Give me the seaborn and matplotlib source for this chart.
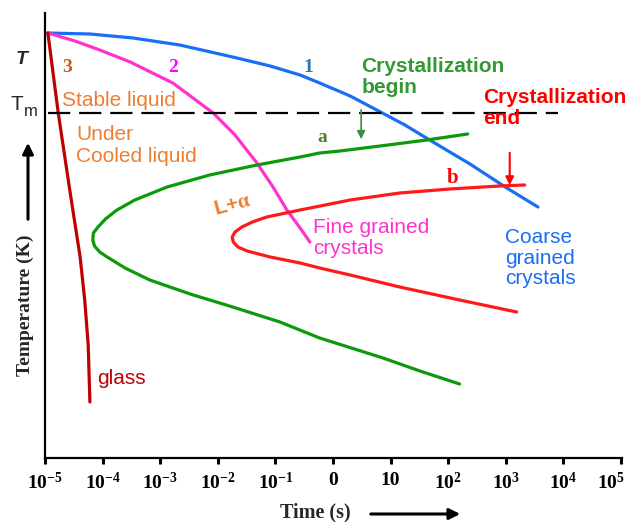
"""
TTT-style cooling diagram: cooling curves 1-3 against
crystallization begin (a) and end (b) C-curves.
"""

import numpy as np
import pandas as pd
import matplotlib
matplotlib.use('Agg')
import matplotlib.pyplot as plt
import matplotlib.transforms as mtransforms
import seaborn as sns

# x = log10(time / s), y = temperature (arbitrary units)
tick_pos = [-5, -4, -3, -2, -1, 0, 1, 2, 3, 4, 5]
tick_labels = [r'$10^{-5}$', r'$10^{-4}$', r'$10^{-3}$', r'$10^{-2}$', r'$10^{-1}$',
               '0', '10', r'$10^{2}$', r'$10^{3}$', r'$10^{4}$', r'$10^{5}$']

t_melt = 345

curve1_x = [-4.95, -4.22, -3.47, -2.66, -1.74, -1.09, -0.57, -0.23, 0.30, 0.76, 1.25, 1.68, 2.38, 3.02, 3.56]
curve1_y = [425, 424, 420, 413, 401, 392, 383, 375, 362, 348, 333, 318, 294, 270, 251]

curve2_x = [-4.95, -4.48, -4.05, -3.52, -2.78, -2.08, -1.70, -1.32, -1.04, -0.80, -0.57, -0.40]
curve2_y = [425, 417, 408, 396, 375, 345, 323, 295, 271, 248, 230, 216]

curve3_x = [-4.95, -4.77, -4.57, -4.39, -4.31, -4.25, -4.22]
curve3_y = [425, 345, 268, 201, 158, 113, 56]

begin_x = [2.34, 1.63, 0.82, 0.12, -0.23, -0.57, -1.32, -2.14, -2.88, -3.44, -3.75, -3.95, -4.08,
           -4.16, -4.17, -4.14, -4.05, -3.92, -3.61, -3.18, -2.48, -1.74, -0.92, -0.23, 0.87, 1.51, 2.20]
begin_y = [324, 318, 312, 307, 305, 301, 293, 283, 271, 258, 248, 239, 231,
           225, 218, 212, 206, 201, 190, 178, 164, 151, 136, 120, 100, 87, 74]

end_x = [3.33, 2.90, 2.03, 1.16, 0.30, -0.57, -1.15, -1.40, -1.58, -1.70, -1.75, -1.73, -1.65,
         -1.49, -1.09, -0.57, -0.23, 0.30, 1.16, 2.20, 3.19]
end_y = [273, 272, 269, 265, 258, 248, 241, 236, 231, 226, 221, 216, 211,
         207, 201, 195, 190, 183, 171, 158, 146]

W, H = 632, 522

sns.set_theme(style='white')
plt.rcParams['font.family'] = ['Liberation Sans', 'DejaVu Sans']
plt.rcParams['mathtext.fontset'] = 'custom'
plt.rcParams['mathtext.rm'] = 'Liberation Serif:bold'
plt.rcParams['mathtext.it'] = 'Liberation Serif:bold:italic'
plt.rcParams['mathtext.bf'] = 'Liberation Serif:bold'
plt.rcParams['mathtext.default'] = 'rm'
plt.rcParams['xtick.bottom'] = True
plt.rcParams['xtick.major.size'] = 4
plt.rcParams['xtick.major.width'] = 2.2

fig = plt.figure(figsize=(W / 100, H / 100), dpi=100)
ax = fig.add_axes([45 / W, (H - 458) / H, 577 / W, 445 / H])


def fx(x):
    return x / W


def fy(y):
    return 1 - y / H


BLUE = '#1a6ef5'
MAGENTA = '#ff33cc'
DARKRED = '#c00000'
GREEN = '#0a9a0a'
RED = '#ff1a1a'
ORANGE = '#ed7d31'
LW = 2.3

curves = [
    (curve1_x, curve1_y, BLUE),
    (curve2_x, curve2_y, MAGENTA),
    (curve3_x, curve3_y, DARKRED),
    (begin_x, begin_y, GREEN),
    (end_x, end_y, RED),
]
for xs, ys, col in curves:
    df = pd.DataFrame({'t': xs, 'T': ys})
    sns.lineplot(data=df, x='t', y='T', sort=False, estimator=None,
                 color=col, lw=LW, ax=ax, solid_joinstyle='round')

# melting temperature
ax.plot([-4.95, 3.91], [t_melt, t_melt], color='black', lw=1.6,
        dashes=(10, 4))

ax.set_xlim(-5, 5.02)
ax.set_ylim(0, 445)
ax.set_xticks(tick_pos)
ax.set_xticklabels(tick_labels, fontsize=14, fontfamily='Liberation Serif',
                   fontweight='bold')
ax.set_yticks([])
ax.set_xlabel('')
ax.set_ylabel('')
ax.tick_params(axis='x', direction='out', length=4, width=2.2, pad=6,
               colors='black', bottom=True)
# last label is pulled left so it fits inside the figure
last = ax.get_xticklabels()[-1]
last.set_transform(last.get_transform() +
                   mtransforms.ScaledTranslation(-10 / 100, 0, fig.dpi_scale_trans))
for side in ['top', 'right']:
    ax.spines[side].set_visible(False)
for side in ['left', 'bottom']:
    ax.spines[side].set_color('black')
    ax.spines[side].set_linewidth(1.6)

# curve numbers and a / b
serif_b = dict(fontfamily='Liberation Serif', fontweight='bold', ha='center', va='center')
ax.text(-4.62, 391, '3', color='#c55a11', fontsize=14, **serif_b)
ax.text(-2.78, 391, '2', color='#ff00ff', fontsize=14, **serif_b)
ax.text(-0.43, 391, '1', color='#2e75b6', fontsize=14, **serif_b)
ax.text(-0.19, 320, 'a', color='#4f7f2f', fontsize=14, **serif_b)
ax.text(2.07, 280, 'b', color='#ff0000', fontsize=15, **serif_b)

# region labels
ax.text(-4.70, 358, 'Stable liquid', color=ORANGE, fontsize=15, va='center')
ax.text(-4.46, 313, 'Under\nCooled liquid', color=ORANGE, fontsize=15, va='center')
ax.text(-1.75, 253, r'L+$\alpha$', color=ORANGE, fontsize=15, fontweight='bold',
        rotation=15, ha='center', va='center')
ax.text(0.49, 381, 'Crystallization\nbegin', color='#339933', fontsize=15,
        fontweight='bold', va='center', linespacing=1.15)
ax.text(2.60, 350, 'Crystallization\nend', color='#ff0000', fontsize=15,
        fontweight='bold', va='center', linespacing=1.15, clip_on=False)
ax.text(-0.35, 220, 'Fine grained\ncrystals', color=MAGENTA, fontsize=15,
        va='center', linespacing=1.1)
ax.text(2.99, 200, 'Coarse\ngrained\ncrystals', color=BLUE, fontsize=15,
        va='center', linespacing=1.1)
ax.text(-4.10, 80, 'glass', color=DARKRED, fontsize=15, va='center')

# arrows marking begin / end
ax.annotate('', xy=(0.49, 316), xytext=(0.49, 351),
            arrowprops=dict(arrowstyle='-|>', color='#3a8f3a', lw=1.2,
                            mutation_scale=12))
ax.annotate('', xy=(3.07, 270), xytext=(3.07, 308),
            arrowprops=dict(arrowstyle='-|>', color='#ff0000', lw=1.5,
                            mutation_scale=12))

# axis annotations outside the axes
fig.text(fx(22), fy(59), 'T', fontsize=14, fontweight='bold', fontstyle='italic',
         ha='center', va='center')
fig.text(fx(17), fy(105), 'T', fontsize=15, ha='center', va='center')
fig.text(fx(31), fy(112), 'm', fontsize=12, ha='center', va='center')
fig.text(fx(25), fy(305), 'Temperature (K)', fontsize=14, rotation=90,
         fontfamily='Liberation Serif', fontweight='bold', ha='center', va='center')
fig.text(fx(315), fy(512), 'Time (s)', fontsize=14.5,
         fontfamily='Liberation Serif', fontweight='bold', ha='center', va='center')
fig.patches.append(matplotlib.patches.FancyArrowPatch(
    (fx(28), fy(222)), (fx(28), fy(140)), transform=fig.transFigure,
    arrowstyle='-|>', color='black', lw=2.2, mutation_scale=16))
fig.patches.append(matplotlib.patches.FancyArrowPatch(
    (fx(368), fy(514)), (fx(463), fy(514)), transform=fig.transFigure,
    arrowstyle='-|>', color='black', lw=2.2, mutation_scale=16))

fig.savefig('out.png', dpi=100)
